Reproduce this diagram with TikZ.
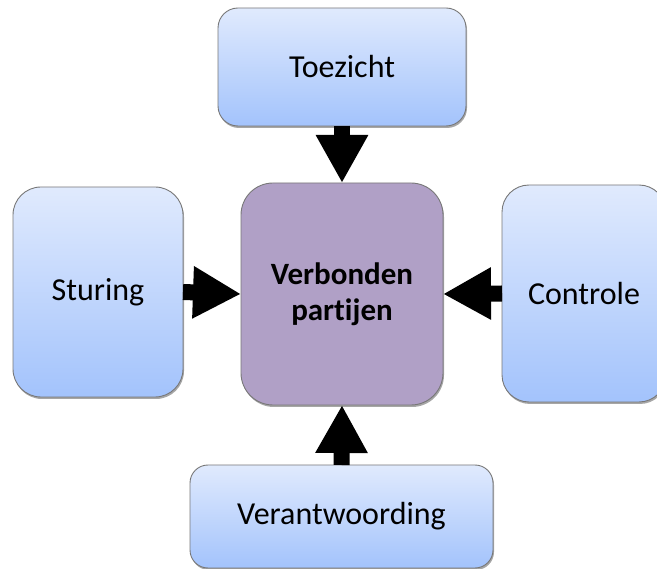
\documentclass[tikz,border=0pt]{standalone}
\usepackage{fontspec}
\setmainfont{Carlito}[Ligatures=NoCommon]
\usetikzlibrary{arrows.meta,shadows}
\definecolor{boxtop}{RGB}{224,234,253}
\definecolor{boxbot}{RGB}{163,195,252}
\definecolor{midfill}{RGB}{176,160,198}
\definecolor{edge}{RGB}{120,120,120}
\tikzset{
  bluebox/.style={draw=edge, line width=0.9pt, top color=boxtop, bottom color=boxbot,
    outer sep=0pt, inner sep=0pt, align=center, font=\fontsize{32}{38}\selectfont,
    drop shadow={shadow xshift=1pt, shadow yshift=-2pt, opacity=0.35, fill=black}},
  midbox/.style={draw=edge, line width=0.9pt, fill=midfill,
    outer sep=0pt, inner sep=0pt, align=center, font=\fontsize{31}{36}\selectfont\bfseries,
    drop shadow={shadow xshift=1pt, shadow yshift=-2pt, opacity=0.35, fill=black}},
  blockarrow/.style={line width=16pt, draw=black, -{Triangle[length=48pt,width=49pt]}}
}
\begin{document}
\begin{tikzpicture}[x=1pt,y=1pt]
\useasboundingbox (0,0) rectangle (657,-569);
\begin{scope}
\clip (0,0) rectangle (657,-569);
\node[bluebox, rounded corners=20pt, minimum width=248pt, minimum height=118pt] (toe) at (342,-67) {Toezicht};
\node[bluebox, rounded corners=28pt, minimum width=170pt, minimum height=210pt] (stu) at (98,-292) {Sturing};
\node[midbox, rounded corners=32pt, minimum width=202pt, minimum height=222pt] (mid) at (342,-294) {Verbonden\\partijen};
\node[bluebox, rounded corners=27pt, minimum width=164pt, minimum height=217pt] (con) at (584,-293.5) {Controle};
\node[bluebox, rounded corners=18pt, minimum width=303pt, minimum height=103pt] (ver) at (341.5,-516.5) {Verantwoording};
\draw[blockarrow] (toe.south) -- (mid.north);
\draw[blockarrow] (stu.east) -- (mid.west);
\draw[blockarrow] (con.west) -- (mid.east);
\draw[blockarrow] (ver.north) -- (mid.south);
\end{scope}
\end{tikzpicture}
\end{document}
